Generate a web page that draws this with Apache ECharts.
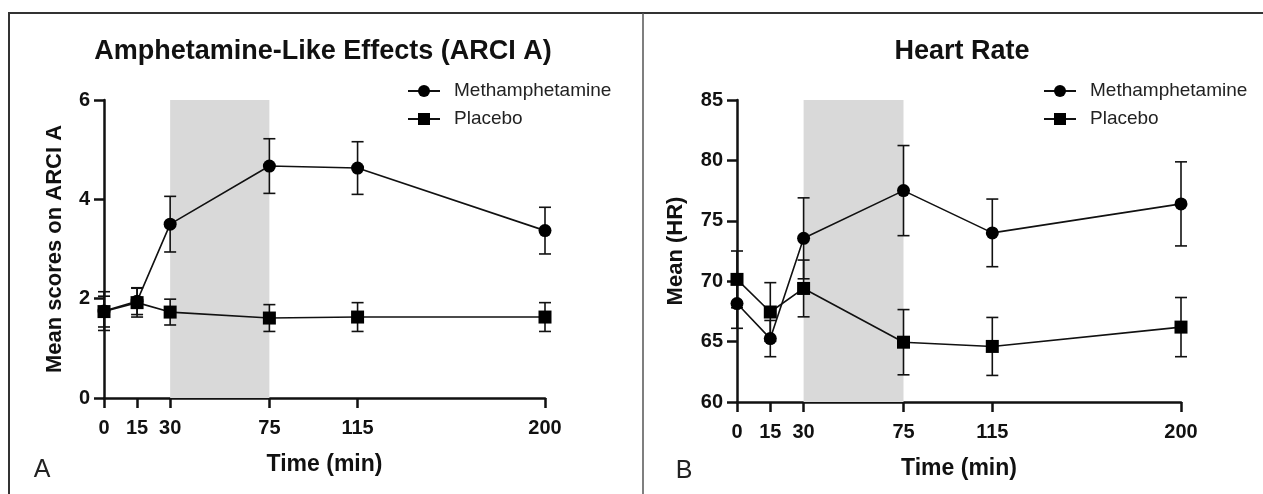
<!DOCTYPE html>
<html>
<head>
<meta charset="utf-8">
<script src="https://cdn.jsdelivr.net/npm/echarts@6/dist/echarts.min.js"></script>
<style>
  html, body { margin: 0; padding: 0; background: #fff; }
  #chart { width: 1263px; height: 494px; }
</style>
</head>
<body>
<div id="chart"></div>
<script>
// time points (min)
var times = [0, 15, 30, 75, 115, 200];

// panel A: ARCI A scores, mean and SEM
var arciMeth = [1.75, 1.95, 3.5, 4.67, 4.63, 3.37];
var arciMethSem = [0.39, 0.27, 0.56, 0.55, 0.53, 0.47];
var arciPlacebo = [1.74, 1.92, 1.73, 1.61, 1.63, 1.63];
var arciPlaceboSem = [0.31, 0.29, 0.26, 0.27, 0.29, 0.29];

// panel B: heart rate, mean and SEM
var hrMeth = [68.15, 65.25, 73.55, 77.5, 74.0, 76.4];
var hrMethSem = [2.05, 1.5, 3.35, 3.73, 2.8, 3.48];
var hrPlacebo = [70.15, 67.45, 69.4, 64.95, 64.6, 66.2];
var hrPlaceboSem = [2.35, 2.43, 2.35, 2.7, 2.4, 2.45];

// drug window shading
var doseWindow = [30, 75];

var FONT = "'Liberation Sans', Arial, sans-serif";

function pairs(ys) {
    return times.map(function (t, i) { return [t, ys[i]]; });
}
function bars(ys, sem) {
    return times.map(function (t, i) { return [t, ys[i] - sem[i], ys[i] + sem[i]]; });
}

// error bar with caps
function errorBar(params, api) {
    var x = api.value(0);
    var lo = api.coord([x, api.value(1)]);
    var hi = api.coord([x, api.value(2)]);
    var w = 6;
    var st = { stroke: '#111', lineWidth: 1.6 };
    return {
        type: 'group',
        children: [
            { type: 'line', shape: { x1: lo[0], y1: lo[1], x2: hi[0], y2: hi[1] }, style: st },
            { type: 'line', shape: { x1: lo[0] - w, y1: lo[1], x2: lo[0] + w, y2: lo[1] }, style: st },
            { type: 'line', shape: { x1: hi[0] - w, y1: hi[1], x2: hi[0] + w, y2: hi[1] }, style: st }
        ]
    };
}

function xAxisFor(gi) {
    return {
        type: 'value', gridIndex: gi, min: 0, max: 200,
        name: 'Time (min)', nameLocation: 'middle', nameGap: 55,
        nameTextStyle: { fontFamily: FONT, fontWeight: 'bold', fontSize: 23, color: '#111' },
        axisLine: { lineStyle: { color: '#111', width: 2.5 } },
        axisTick: { show: true, length: 10, customValues: times, lineStyle: { width: 2.5, color: '#111' } },
        axisLabel: { customValues: times, margin: 20, fontFamily: FONT, fontWeight: 'bold', fontSize: 20, color: '#111' },
        splitLine: { show: false }
    };
}

function yAxisFor(gi, min, max, step, name, gap) {
    return {
        type: 'value', gridIndex: gi, min: min, max: max, interval: step,
        name: name, nameLocation: 'middle', nameGap: gap,
        nameTextStyle: { fontFamily: FONT, fontWeight: 'bold', fontSize: 22, color: '#111' },
        axisLine: { show: true, lineStyle: { color: '#111', width: 2.5 } },
        axisTick: { show: true, length: 10, lineStyle: { width: 2.5, color: '#111' } },
        axisLabel: { margin: 14, fontFamily: FONT, fontWeight: 'bold', fontSize: 20, color: '#111' },
        splitLine: { show: false }
    };
}

function lineSeries(name, gi, ys, symbol, shade) {
    var s = {
        name: name, type: 'line', xAxisIndex: gi, yAxisIndex: gi,
        data: pairs(ys), symbol: symbol, symbolSize: 13, showSymbol: true,
        lineStyle: { color: '#111', width: 1.6 },
        itemStyle: { color: '#000' },
        z: symbol === 'rect' ? 4 : 3
    };
    if (shade) {
        s.markArea = {
            silent: true,
            itemStyle: { color: '#d9d9d9' },
            data: [[{ xAxis: doseWindow[0] }, { xAxis: doseWindow[1] }]]
        };
    }
    return s;
}

function errSeries(name, gi, ys, sem) {
    return {
        name: name, type: 'custom', xAxisIndex: gi, yAxisIndex: gi,
        renderItem: errorBar, data: bars(ys, sem), z: 2
    };
}

function legendAt(left) {
    return {
        data: ['Methamphetamine', 'Placebo'],
        orient: 'vertical', left: left, top: 75,
        itemWidth: 32, itemHeight: 15, itemGap: 6,
        lineStyle: { width: 2 },
        textStyle: { fontFamily: FONT, fontSize: 19, color: '#222', lineHeight: 22, padding: [0, 0, 0, 9] }
    };
}

var myChart = echarts.init(document.getElementById('chart'));

var option = {
    animation: false,
    backgroundColor: '#fff',
    title: [
        { text: 'Amphetamine-Like Effects (ARCI A)', left: 323, top: 38, textAlign: 'center', padding: 0,
          textStyle: { fontFamily: FONT, fontWeight: 'bold', fontSize: 27, color: '#111' } },
        { text: 'Heart Rate', left: 962, top: 38, textAlign: 'center', padding: 0,
          textStyle: { fontFamily: FONT, fontWeight: 'bold', fontSize: 27, color: '#111' } },
        { text: 'A', left: 42, top: 458, textAlign: 'center', padding: 0,
          textStyle: { fontFamily: FONT, fontWeight: 'normal', fontSize: 25, color: '#222' } },
        { text: 'B', left: 684, top: 459, textAlign: 'center', padding: 0,
          textStyle: { fontFamily: FONT, fontWeight: 'normal', fontSize: 25, color: '#222' } }
    ],
    legend: [legendAt(402), legendAt(1038)],
    grid: [
        { left: 104, top: 100, width: 441, height: 298 },
        { left: 737, top: 100, width: 444, height: 302 }
    ],
    xAxis: [xAxisFor(0), xAxisFor(1)],
    yAxis: [
        yAxisFor(0, 0, 6, 2, 'Mean scores on ARCI A', 38),
        yAxisFor(1, 60, 85, 5, 'Mean (HR)', 50)
    ],
    graphic: [
        { type: 'line', shape: { x1: 9, y1: 13, x2: 1263, y2: 13 }, style: { stroke: '#333', lineWidth: 2 } },
        { type: 'line', shape: { x1: 9, y1: 12, x2: 9, y2: 494 }, style: { stroke: '#333', lineWidth: 2 } },
        { type: 'line', shape: { x1: 643, y1: 13, x2: 643, y2: 494 }, style: { stroke: '#555', lineWidth: 1.5 } }
    ],
    series: [
        errSeries('errA1', 0, arciMeth, arciMethSem),
        errSeries('errA2', 0, arciPlacebo, arciPlaceboSem),
        lineSeries('Methamphetamine', 0, arciMeth, 'circle', true),
        lineSeries('Placebo', 0, arciPlacebo, 'rect', false),
        errSeries('errB1', 1, hrMeth, hrMethSem),
        errSeries('errB2', 1, hrPlacebo, hrPlaceboSem),
        lineSeries('Methamphetamine', 1, hrMeth, 'circle', true),
        lineSeries('Placebo', 1, hrPlacebo, 'rect', false)
    ]
};

myChart.setOption(option);
</script>
</body>
</html>
